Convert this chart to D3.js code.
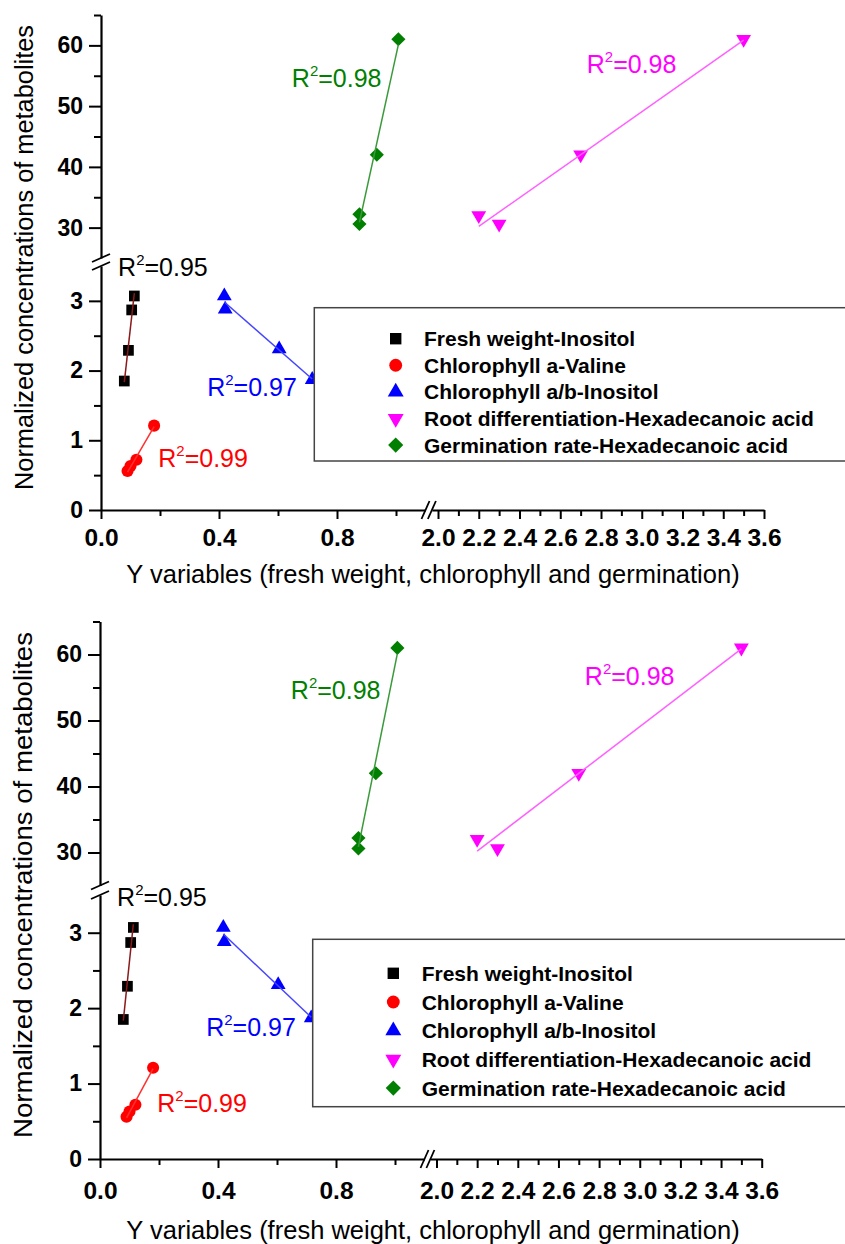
<!DOCTYPE html>
<html>
<head>
<meta charset="utf-8">
<script src="https://cdn.jsdelivr.net/npm/d3@7/dist/d3.min.js"></script>
<style>
  body { margin: 0; background: #fff; }
  text { font-family: "Liberation Sans", Arial, sans-serif; }
</style>
</head>
<body>
<svg id="chart" width="845" height="1244"></svg>
<script>
// ---- data ----
const seriesNames = [
  "Fresh weight-Inositol",
  "Chlorophyll a-Valine",
  "Chlorophyll a/b-Inositol",
  "Root differentiation-Hexadecanoic acid",
  "Germination rate-Hexadecanoic acid"
];
const freshWeight = [0.079, 0.093, 0.104, 0.113];
const inositolFW = [1.85, 2.29, 2.87, 3.07];
const chlorophyllA = [0.09, 0.10, 0.12, 0.18];
const valine = [0.56, 0.63, 0.72, 1.21];
const chlorophyllAB = [0.418, 0.421, 0.604, 0.716];
const inositolAB = [3.07, 2.88, 2.31, 1.87];
const rootDiff = [2.2, 2.3, 2.7, 3.5];
const hexadecRoot = [32, 30.6, 42, 61];
const germRate = [0.876, 0.876, 0.935, 1.008];
const hexadecGerm = [32.2, 30.6, 42, 61];
const r2Values = ["0.95", "0.99", "0.97", "0.98", "0.98"];

const yTicksLow = [0, 1, 2, 3];
const yMinorLow = [0.5, 1.5, 2.5];
const yTicksHigh = [30, 40, 50, 60];
const yMinorHigh = [35, 45, 55, 65];
const xTicksLeft = [0, 0.4, 0.8];
const xMinorLeft = [0.2, 0.6, 1.0];
const xTicksRight = [2.0, 2.2, 2.4, 2.6, 2.8, 3.0, 3.2, 3.4, 3.6];
const xMinorRight = [2.1, 2.3, 2.5, 2.7, 2.9, 3.1, 3.3, 3.5];

// where each R² note sits, in data units
const r2Anchor = [[0.058, 3.36], [0.194, 0.62], [0.36, 1.63], [2.73, 55.4], [0.647, 53.2]];

const series = [
  { x: freshWeight, y: inositolFW, col: "#000000", line: "#8b1a1a", sym: d3.symbolSquare, size: 115, rot: 0, xs: "L", ys: "low" },
  { x: chlorophyllA, y: valine, col: "#ff0000", line: "#ff3030", sym: d3.symbolCircle, size: 115, rot: 0, xs: "L", ys: "low" },
  { x: chlorophyllAB, y: inositolAB, col: "#0000ff", line: "#4545ff", sym: d3.symbolTriangle, size: 95, rot: 0, xs: "L", ys: "low" },
  { x: rootDiff, y: hexadecRoot, col: "#ff00ff", line: "#ff60ff", sym: d3.symbolTriangle, size: 95, rot: 180, xs: "R", ys: "high" },
  { x: germRate, y: hexadecGerm, col: "#007f00", line: "#3a9a3a", sym: d3.symbolSquare, size: 100, rot: 45, xs: "L", ys: "high" }
];

// ---- two copies of the same figure, the lower one slightly taller ----
const panels = [
  { x0: 101, xBrkL: 425.5, xBrkR: 431.9, xEnd: 764, yTop: 15, yBrkH: 258, yBrkL: 266, yBot: 510,
    xPad: 10, titleY: 583, yTitleX: 33, yTitleMid: 257.5, yTitleLen: 465,
    leg: { x: 314.3, y: 307.7, h: 153.3, row0: 338.7, step: 26.6, sx: 395.7, tx: 424 } },
  { x0: 100, xBrkL: 424.5, xBrkR: 430.4, xEnd: 761.7, yTop: 621.5, yBrkH: 885.5, yBrkL: 895, yBot: 1159,
    xPad: 14, titleY: 1239, yTitleX: 31.7, yTitleMid: 885, yTitleLen: 506,
    leg: { x: 312.7, y: 939.3, h: 167.4, row0: 973.3, step: 28.7, sx: 393.3, tx: 421.7 } }
];

const svg = d3.select("#chart");
svg.append("rect").attr("width", 845).attr("height", 1244).attr("fill", "#fff");

function linfit(xs, ys) {
  const mx = d3.mean(xs), my = d3.mean(ys);
  let sxy = 0, sxx = 0;
  xs.forEach((v, i) => { sxy += (v - mx) * (ys[i] - my); sxx += (v - mx) * (v - mx); });
  const b = sxy / sxx;
  return v => my + b * (v - mx);
}

function styleAxis(g) {
  g.select(".domain").attr("stroke", "#000").attr("stroke-width", 2.2);
  g.selectAll(".tick line").attr("stroke", "#000").attr("stroke-width", 2);
}

panels.forEach(p => {
  const g = svg.append("g");
  const xL = d3.scaleLinear().domain([0, 1.1]).range([p.x0, p.xBrkL]);
  const xR = d3.scaleLinear().domain([1.97, 3.6]).range([p.xBrkR, p.xEnd]);
  const yLow = d3.scaleLinear().domain([0, 3.5]).range([p.yBot, p.yBrkL]);
  const yHigh = d3.scaleLinear().domain([25, 65]).range([p.yBrkH, p.yTop]);
  const xScale = { L: xL, R: xR };
  const yScale = { low: yLow, high: yHigh };
  const fmt = d3.format(".1f");

  // x axes
  [[xL, xTicksLeft, xMinorLeft], [xR, xTicksRight, xMinorRight]].forEach(([sc, major, minor]) => {
    const ax = g.append("g").attr("transform", `translate(0,${p.yBot})`)
      .call(d3.axisBottom(sc).tickValues(major).tickSize(9).tickSizeOuter(0).tickPadding(p.xPad).tickFormat(fmt));
    styleAxis(ax);
    ax.selectAll("text").attr("font-size", 24.5).attr("font-weight", "bold").attr("fill", "#000");
    const mn = g.append("g").attr("transform", `translate(0,${p.yBot})`)
      .call(d3.axisBottom(sc).tickValues(minor).tickSize(6).tickFormat(""));
    mn.select(".domain").remove();
    styleAxis(mn);
  });

  // y axes
  [[yLow, yTicksLow, yMinorLow], [yHigh, yTicksHigh, yMinorHigh]].forEach(([sc, major, minor]) => {
    const ax = g.append("g").attr("transform", `translate(${p.x0},0)`)
      .call(d3.axisLeft(sc).tickValues(major).tickSize(12).tickSizeOuter(0).tickPadding(6).tickFormat(d3.format("d")));
    styleAxis(ax);
    ax.selectAll("text").attr("font-size", 23).attr("font-weight", "bold").attr("fill", "#000");
    const mn = g.append("g").attr("transform", `translate(${p.x0},0)`)
      .call(d3.axisLeft(sc).tickValues(minor).tickSize(7).tickFormat(""));
    mn.select(".domain").remove();
    styleAxis(mn);
  });

  // break marks
  const brk = g.append("g").attr("stroke", "#000").attr("stroke-width", 1.8);
  [p.xBrkL, p.xBrkR].forEach(x => {
    brk.append("line").attr("x1", x - 4).attr("y1", p.yBot + 9).attr("x2", x + 4).attr("y2", p.yBot - 9);
  });
  [p.yBrkH, p.yBrkL].forEach(y => {
    brk.append("line").attr("x1", p.x0 - 9).attr("y1", y + 4).attr("x2", p.x0 + 9).attr("y2", y - 4);
  });

  // fit lines and markers
  series.forEach(s => {
    const xs = xScale[s.xs], ys = yScale[s.ys];
    const f = linfit(s.x, s.y);
    const ext = d3.extent(s.x);
    g.selectAll(null).data(s.x).enter().append("path")
      .attr("d", d3.symbol().type(s.sym).size(s.size))
      .attr("transform", (d, i) => `translate(${xs(d)},${ys(s.y[i])}) rotate(${s.rot})`)
      .attr("fill", s.col);
    g.append("line")
      .attr("x1", xs(ext[0])).attr("y1", ys(f(ext[0])))
      .attr("x2", xs(ext[1])).attr("y2", ys(f(ext[1])))
      .attr("stroke", s.line).attr("stroke-width", 1.5);
  });

  // R² notes
  series.forEach((s, i) => {
    const t = g.append("text")
      .attr("x", xScale[s.xs](r2Anchor[i][0]))
      .attr("y", yScale[s.ys](r2Anchor[i][1]))
      .attr("font-size", 25).attr("fill", s.col);
    t.append("tspan").text("R");
    t.append("tspan").attr("font-size", 15).attr("dy", -11).text("2");
    t.append("tspan").attr("dy", 11).text("=" + r2Values[i]);
  });

  // legend
  const L = p.leg;
  g.append("rect").attr("x", L.x).attr("y", L.y).attr("width", 850 - L.x).attr("height", L.h)
    .attr("fill", "#fff").attr("stroke", "#444").attr("stroke-width", 1.5);
  series.forEach((s, i) => {
    const cy = L.row0 + i * L.step;
    g.append("path").attr("d", d3.symbol().type(s.sym).size(s.size + 15))
      .attr("transform", `translate(${L.sx},${cy}) rotate(${s.rot})`).attr("fill", s.col);
    g.append("text").attr("x", L.tx).attr("y", cy).attr("dy", "0.36em")
      .attr("font-size", 21).attr("font-weight", "bold").attr("fill", "#000")
      .text(seriesNames[i]);
  });

  // axis titles
  g.append("text").attr("x", 433).attr("y", p.titleY).attr("text-anchor", "middle")
    .attr("font-size", 25.5).attr("fill", "#000")
    .text("Y variables (fresh weight, chlorophyll and germination)");
  g.append("text").attr("transform", `translate(${p.yTitleX},${p.yTitleMid}) rotate(-90)`)
    .attr("text-anchor", "middle").attr("font-size", 25.5).attr("fill", "#000")
    .attr("textLength", p.yTitleLen).attr("lengthAdjust", "spacingAndGlyphs")
    .text("Normalized concentrations of metabolites");
});
</script>
</body>
</html>
